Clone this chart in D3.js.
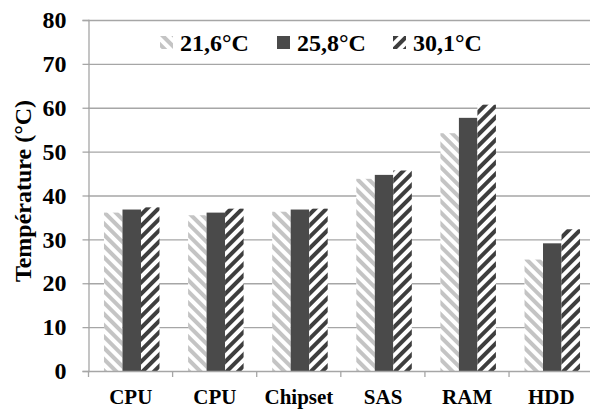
<!DOCTYPE html>
<html>
<head>
<meta charset="utf-8">
<script src="https://cdn.jsdelivr.net/npm/d3@7"></script>
<style>
  body { margin: 0; background: #fff; }
  svg text { font-family: "Liberation Serif", "DejaVu Serif", serif; font-weight: bold; }
</style>
</head>
<body>
<div class="chart"></div>
<script>
const width = 590;
const height = 409;

// data
const categories = ["CPU", "CPU", "Chipset", "SAS", "RAM", "HDD"];
const series = ["21,6°C", "25,8°C", "30,1°C"];
const temp216 = [36.1, 35.5, 36.3, 43.8, 54.2, 25.4];
const temp258 = [36.8, 36.1, 36.8, 44.7, 57.7, 29.1];
const temp301 = [37.3, 37.0, 37.0, 45.7, 60.7, 32.3];
const yTicks = [0, 10, 20, 30, 40, 50, 60, 70, 80];

const values = [temp216, temp258, temp301];
const fills = ["url(#light)", "#4a4a4a", "url(#dark)"];
const FONT = "'Liberation Serif', 'DejaVu Serif', serif";

const mLeft = 88, mRight = 596, mTop = 20, mBottom = 371;

const svg = d3.select(".chart").append("svg").attr("width", width).attr("height", height)
    .attr("font-family", FONT);

// stripe patterns
const defs = svg.append("defs");
function stripes(id, color, angle) {
    const p = defs.append("pattern").attr("id", id)
        .attr("patternUnits", "userSpaceOnUse")
        .attr("width", 8).attr("height", 8)
        .attr("patternTransform", "rotate(" + angle + ")");
    p.append("rect").attr("width", 8).attr("height", 8).attr("fill", "#fff");
    p.append("rect").attr("width", 4).attr("height", 8).attr("fill", color);
}
stripes("light", "#c4c4c4", -45);
stripes("dark", "#3e3e3e", 45);

const x0 = d3.scaleBand().domain(d3.range(categories.length)).range([mLeft, mRight])
    .paddingInner(0.34).paddingOuter(0.19);
const x1 = d3.scaleBand().domain(d3.range(series.length)).range([0, x0.bandwidth()]);
const y = d3.scaleLinear().domain([0, 80]).range([mBottom, mTop]);

// gridlines
svg.append("g").selectAll("line").data(yTicks.slice(1)).enter().append("line")
    .attr("x1", mLeft).attr("x2", width)
    .attr("y1", d => y(d) + 0.5).attr("y2", d => y(d) + 0.5)
    .attr("stroke", "#a6a6a6").attr("stroke-width", 1.3);

// bars
const groups = svg.append("g").selectAll("g").data(categories).enter().append("g")
    .attr("transform", (c, i) => "translate(" + x0(i) + ",0)");
groups.selectAll("rect").data((c, i) => values.map((v, s) => ({ s: s, v: v[i] }))).enter().append("rect")
    .attr("x", d => x1(d.s))
    .attr("width", x1.bandwidth())
    .attr("y", d => y(d.v))
    .attr("height", d => y(0) - y(d.v))
    .attr("fill", d => fills[d.s]);

// y axis
const yAxis = svg.append("g").attr("transform", "translate(" + (mLeft + 0.5) + ",0)")
    .call(d3.axisLeft(y).tickValues(yTicks).tickSize(6).tickPadding(16));
yAxis.attr("font-family", FONT).attr("font-size", 24);
yAxis.selectAll("line").attr("stroke", "#a6a6a6").attr("stroke-width", 1.3);
yAxis.select(".domain").attr("stroke", "#a6a6a6").attr("stroke-width", 1.3);
yAxis.selectAll("text").attr("fill", "#000");

// x axis: ticks between categories
const bounds = d3.range(categories.length + 1).map(i => mLeft + i * x0.step());
const xAxis = svg.append("g");
xAxis.append("line").attr("x1", mLeft).attr("x2", width)
    .attr("y1", mBottom + 0.5).attr("y2", mBottom + 0.5)
    .attr("stroke", "#a6a6a6").attr("stroke-width", 1.3);
xAxis.selectAll(".tk").data(bounds).enter().append("line").attr("class", "tk")
    .attr("x1", d => d + 0.5).attr("x2", d => d + 0.5)
    .attr("y1", mBottom).attr("y2", mBottom + 6)
    .attr("stroke", "#a6a6a6").attr("stroke-width", 1.3);
xAxis.selectAll("text").data(categories).enter().append("text")
    .attr("x", (c, i) => x0(i) + x0.bandwidth() / 2 - 1)
    .attr("y", 404)
    .attr("text-anchor", "middle")
    .attr("font-size", 21)
    .text(c => c);

// y title
svg.append("text")
    .attr("transform", "translate(31,191) rotate(-90)")
    .attr("text-anchor", "middle")
    .attr("font-size", 24)
    .text("Température (°C)");

// legend
const legendX = [160, 277, 393];
const legend = svg.append("g").selectAll("g").data(series).enter().append("g")
    .attr("transform", (d, i) => "translate(" + legendX[i] + ",36)");
legend.append("rect").attr("width", 13).attr("height", 13)
    .attr("fill", (d, i) => fills[i]);
legend.append("text").attr("x", 20).attr("y", 15)
    .attr("font-size", 24)
    .text(d => d);
</script>
</body>
</html>
